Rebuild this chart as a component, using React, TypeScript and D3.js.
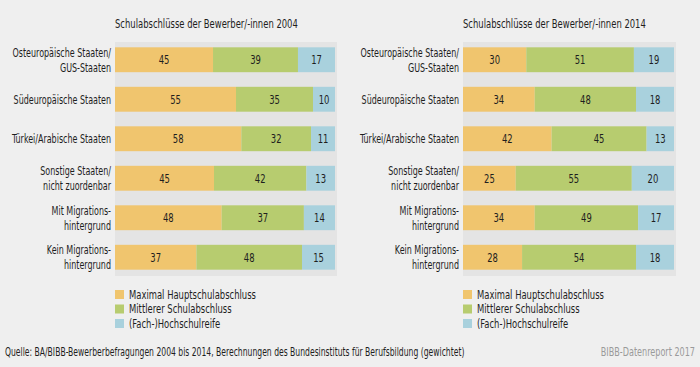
import React, { useEffect } from 'react';
import * as d3 from 'd3';

// Categories (each entry split into label lines)
const categories: string[][] = [
  ['Osteuropäische Staaten/', 'GUS-Staaten'],
  ['Südeuropäische Staaten'],
  ['Türkei/Arabische Staaten'],
  ['Sonstige Staaten/', 'nicht zuordenbar'],
  ['Mit Migrations-', 'hintergrund'],
  ['Kein Migrations-', 'hintergrund'],
];

const seriesNames = ['Maximal Hauptschulabschluss', 'Mittlerer Schulabschluss', '(Fach-)Hochschulreife'];
const colors = ['#f0c56e', '#b7cc6f', '#a9d1dd'];

// 2004
const haupt2004 = [45, 55, 58, 45, 48, 37];
const mittel2004 = [39, 35, 32, 42, 37, 48];
const hoch2004 = [17, 10, 11, 13, 14, 15];

// 2014
const haupt2014 = [30, 34, 42, 25, 34, 28];
const mittel2014 = [51, 48, 45, 55, 49, 54];
const hoch2014 = [19, 18, 13, 20, 17, 18];

const titles = ['Schulabschlüsse der Bewerber/-innen 2004', 'Schulabschlüsse der Bewerber/-innen 2014'];
const sourceText =
  'Quelle: BA/BIBB-Bewerberbefragungen 2004 bis 2014, Berechnungen des Bundesinstituts für Berufsbildung (gewichtet)';
const creditText = 'BIBB-Datenreport 2017';

const W = 700;
const H = 367;
const FONT = '"DejaVu Sans Condensed", "DejaVu Sans", sans-serif';
const TEXT = '#1e1e1e';
const SX = 0.75; // squeeze glyphs to mimic the narrow original typeface

type Panel = {
  title: string;
  series: number[][];
  x0: number;
  x1: number;
};

const panels: Panel[] = [
  { title: titles[0], series: [haupt2004, mittel2004, hoch2004], x0: 115, x1: 335 },
  { title: titles[1], series: [haupt2014, mittel2014, hoch2014], x0: 463, x1: 674 },
];

const keys = categories.map((c) => c.join(' '));
const yScale = d3.scaleBand<string>().domain(keys).range([40, 277]).paddingInner(0.37).paddingOuter(0.185);

type TProps = {
  x: number;
  y: number;
  anchor?: 'start' | 'middle' | 'end';
  size?: number;
  sx?: number;
  fill?: string;
  children: React.ReactNode;
};

const T = ({ x, y, anchor = 'start', size = 12.5, sx = SX, fill = TEXT, children }: TProps) => (
  <text
    transform={`translate(${x},${y}) scale(${sx},1)`}
    dy="0.35em"
    textAnchor={anchor}
    fontSize={size}
    fill={fill}
  >
    {children}
  </text>
);

const PanelView = ({ p }: { p: Panel }) => {
  return (
    <g>
      <T x={p.x0} y={24}>
        {p.title}
      </T>
      <rect x={p.x0} y={42} width={p.x1 - p.x0 + 2} height={234} fill="#e4e4e4" />
      {categories.map((lines, i) => {
        const key = keys[i];
        const y = yScale(key) ?? 0;
        const cy = y + yScale.bandwidth() / 2;
        const vals = p.series.map((s) => s[i]);
        const total = d3.sum(vals);
        const x = d3.scaleLinear().domain([0, total]).range([p.x0, p.x1]);
        const stack = d3.cumsum(vals);
        return (
          <g key={key}>
            {lines.map((ln, j) => (
              <T key={j} x={p.x0 - 4} y={cy + (j - (lines.length - 1) / 2) * 15} anchor="end" sx={0.71}>
                {ln}
              </T>
            ))}
            {vals.map((v, k) => {
              const a = x(k === 0 ? 0 : stack[k - 1]);
              const b = x(stack[k]);
              return (
                <g key={k}>
                  <rect x={a} y={y} width={b - a} height={yScale.bandwidth()} fill={colors[k]} />
                  <T x={(a + b) / 2} y={cy} anchor="middle">
                    {v}
                  </T>
                </g>
              );
            })}
          </g>
        );
      })}
      {seriesNames.map((name, k) => (
        <g key={name}>
          <rect x={p.x0} y={290 + k * 14.5} width={9} height={9} fill={colors[k]} />
          <T x={p.x0 + 14} y={294.5 + k * 14.5}>
            {name}
          </T>
        </g>
      ))}
    </g>
  );
};

const App = () => {
  useEffect(() => {
    document.body.style.margin = '0';
  }, []);

  return (
    <svg width={W} height={H} style={{ display: 'block', fontFamily: FONT }}>
      <rect width={W} height={H} fill="#efefef" />
      {panels.map((p) => (
        <PanelView key={p.title} p={p} />
      ))}
      <T x={5} y={352} size={12} sx={0.71}>
        {sourceText}
      </T>
      <T x={695} y={352} anchor="end" size={12} fill="#9a9a9a">
        {creditText}
      </T>
    </svg>
  );
};

export default App;
